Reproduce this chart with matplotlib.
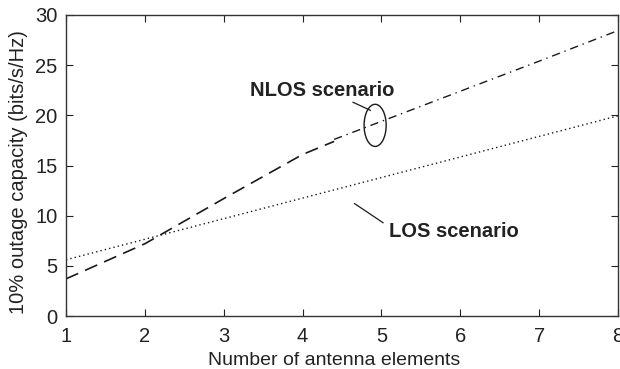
import matplotlib
matplotlib.use("Agg")
import matplotlib.pyplot as plt
from matplotlib.patches import Ellipse

plt.rcParams['font.family'] = ['Liberation Sans', 'DejaVu Sans']

# Data
nlos_meas_x = [1, 2, 3, 4, 4.4]
nlos_meas_y = [3.7, 7.2, 11.7, 16.1, 17.4]
nlos_model_x = [4.4, 5, 6, 7, 8]
nlos_model_y = [17.6, 19.4, 22.4, 25.4, 28.45]
los_x = [1, 2, 3, 4, 5, 6, 7, 8]
los_y = [5.6, 7.65, 9.7, 11.75, 13.8, 15.85, 17.9, 19.95]
xticks = [1, 2, 3, 4, 5, 6, 7, 8]
yticks = [0, 5, 10, 15, 20, 25, 30]

fig = plt.figure(figsize=(6.2, 3.69), dpi=100)
ax = fig.add_axes([66/620, 53/369, 552/620, 301/369])

lc = '#1a1a1a'
ax.plot(nlos_meas_x, nlos_meas_y, color=lc, lw=1.2, dashes=(8, 4.5))
ax.plot(nlos_model_x, nlos_model_y, color=lc, lw=1.0, dashes=(6, 3.5, 1, 3.5))
ax.plot(los_x, los_y, color=lc, lw=1.0, dashes=(1, 2.2))

ax.set_xlim(1, 8)
ax.set_ylim(0, 30)
ax.set_xticks(xticks)
ax.set_yticks(yticks)
ax.tick_params(axis='both', direction='in', length=5, width=0.8, top=True, right=True,
               labelsize=14.5, colors='#222222')
ax.tick_params(axis='x', pad=8)
ax.tick_params(axis='y', pad=6)
for s in ax.spines.values():
    s.set_linewidth(1.0)
    s.set_color('#333333')

ax.set_xlabel('Number of antenna elements', fontsize=14, color='#222222')
ax.set_ylabel('10% outage capacity (bits/s/Hz)', fontsize=14.5, color='#222222')
ax.xaxis.set_label_coords(0.4855, -0.118)
ax.yaxis.set_label_coords(-0.069, 0.478)

# Annotations
ax.text(3.33, 22.5, 'NLOS scenario', fontsize=14.5, fontweight='bold',
        ha='left', va='center', color='#222222')
ax.plot([4.64, 4.86], [21.3, 20.5], color=lc, lw=0.9)
ax.add_patch(Ellipse((4.92, 19.0), 0.28, 4.2, fill=False, ec=lc, lw=1.0))

ax.text(5.10, 8.4, 'LOS scenario', fontsize=14.5, fontweight='bold',
        ha='left', va='center', color='#222222')
ax.plot([4.66, 5.02], [11.2, 9.3], color=lc, lw=0.9)

fig.savefig('out.png', dpi=100)
